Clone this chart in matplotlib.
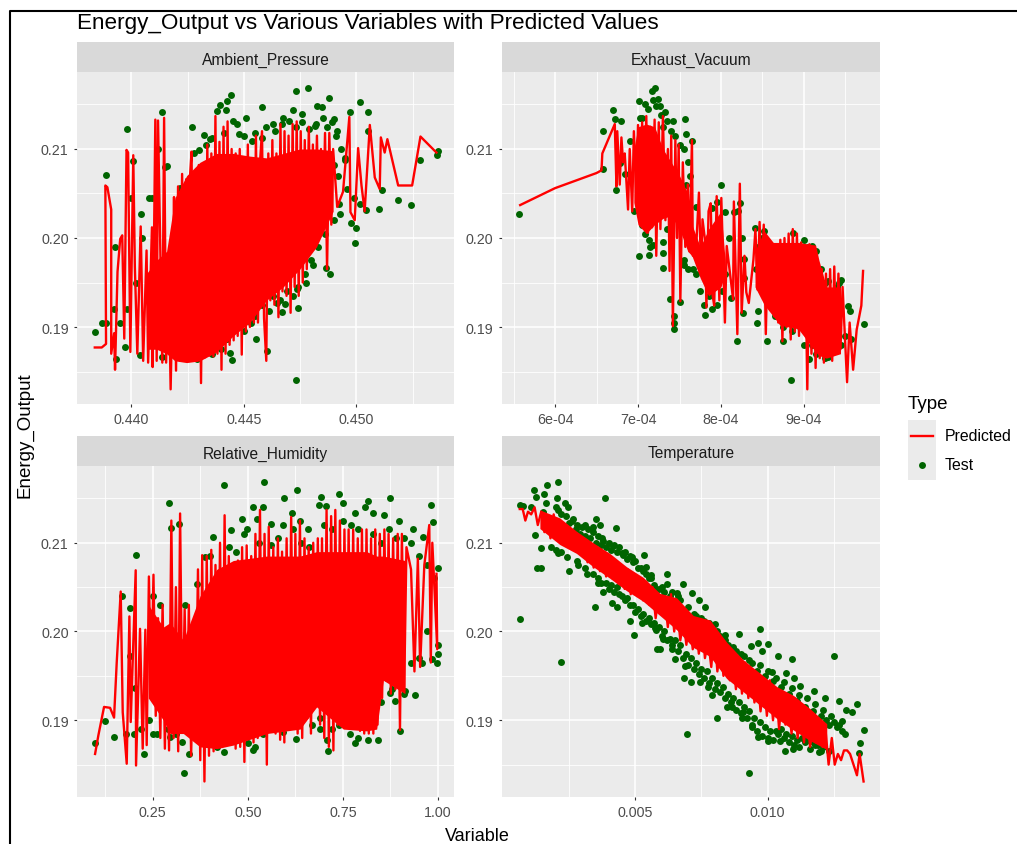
import matplotlib
matplotlib.use("Agg")
import matplotlib.pyplot as plt

plt.rcParams['font.family'] = ['Liberation Sans', 'DejaVu Sans']

W, H = 1017, 845

# Ambient_Pressure
pressure_test_x = [.43837, .43887, .43982, .44138, .44441, .44424, .44394, .44379, .44419, .44508,
                   .44581, .44732, .44787, .44877, .44827, .44846, .44720, .44760, .44676, .44902,
                   .44972, .45016, .45050, .45359, .45364, .45284, .45184, .45244, .45101, .45113,
                   .44994, .45000, .44976, .44927, .44883, .44865, .44776, .44742, .44732, .44601,
                   .44554, .44447, .44439, .44427, .44353, .44290, .44218, .44138, .44039, .43972,
                   .43932, .43870, .43887, .43924, .44044, .44009, .44092, .44216, .44268, .44324,
                   .44350, .44301, .44157, .44172, .44646, .44683, .44668, .44619, .44735, .44913,
                   .44816, .44631, .44950, .45053, .45041, .44809, .44453, .44480, .44535, .44923,
                   .45018,
                   .4428, .4433, .4436, .4441, .4447, .4450, .4455, .4458, .4460, .4464,
                   .4467, .4470, .4473, .4476, .4479, .4482, .4485, .4487, .4489, .4491,
                   .4493, .4495, .4490, .4492, .4496, .4499, .4428, .4432, .4436, .4440,
                   .4445, .4450, .4453, .4455, .4458, .4461, .4463, .4466, .4469, .4472,
                   .4474, .4477, .4480, .4483, .4486, .4490, .4398, .4402, .4405, .4408,
                   .4412, .4415, .4400, .4395, .4393]
pressure_test_y = [.18944, .20708, .21228, .21412, .21610, .21539, .21498, .21427, .21438, .21345,
                   .21472, .21655, .21682, .21569, .21483, .21476, .21442, .21397, .21352, .21333,
                   .21412, .21524, .21412, .20936, .20978, .20876, .20427, .20367, .20326, .20536,
                   .19944, .20116, .20172, .20270, .19592, .19667, .19491, .19210, .18405, .18730,
                   .18861, .18633, .18704, .18861, .18787, .18637, .18667, .18663, .18689, .18775,
                   .18644, .19049, .19049, .19199, .20273, .20869, .20453, .20558, .21247, .21161,
                   .21109, .20993, .20809, .19779, .19273, .19255, .19169, .19356, .19423, .21202,
                   .21258, .21277, .20876, .21202, .20315, .19693, .21315, .21172, .21090, .20378,
                   .20386,
                   .2095, .2105, .2112, .2118, .2128, .2115, .2118, .2112, .2125, .2120,
                   .2128, .2132, .2125, .2130, .2122, .2128, .2135, .2125, .2130, .2115,
                   .2100, .2090, .2082, .2070, .2055, .2045, .1868, .1872, .1870, .1875,
                   .1900, .1895, .1905, .1912, .1925, .1918, .1935, .1930, .1940, .1935,
                   .1945, .1960, .1975, .1990, .2005, .2020, .1920, .1950, .2000, .2045,
                   .2100, .2080, .2045, .1905, .1990]
pressure_pred_x = [.43838, .43869, .43888, .43885, .43894, .43911, .43911, .43924, .43928, .43939,
                   .43951, .43960, .43969, .43979, .43986, .43996, .44009, .44016, .44027, .44042,
                   .44053, .44068, .44075, .44092, .44095, .44107, .44113, .44119, .44138, .44146,
                   .44155, .44165, .44175, .44185, .44190, .44199, .44208, .44217, .44226, .44235,
                   .44244, .44253, .44262, .44268, .44275, .44284, .44293, .44300, .44310, .44320,
                   .44329, .44338, .44347, .44356, .44365, .44374, .44383, .44392, .44401, .44410,
                   .44419, .44428, .44437, .44446, .44455, .44464, .44473, .44482, .44491, .44500,
                   .44509, .44518, .44527, .44536, .44545, .44554, .44563, .44572, .44581, .44590,
                   .44600, .44609, .44618, .44627, .44636, .44645, .44654, .44663, .44672, .44681,
                   .44690, .44699, .44708, .44717, .44726, .44735, .44744, .44753, .44762, .44771,
                   .44780, .44789, .44798, .44807, .44816, .44825, .44834, .44843, .44852, .44861,
                   .44870, .44880, .44889, .44897, .44915, .44941, .44969, .44974, .44993, .45008,
                   .45023, .45037, .45060, .45082, .45104, .45109, .45126, .45138, .45186, .45248,
                   .45285, .45356]
pressure_pred_y = [.1877, .1877, .1881, .2059, .2057, .2032, .1870, .1893, .1852, .1962,
                   .1999, .2003, .1887, .2099, .2096, .1872, .2093, .1968, .1870, .2013,
                   .1862, .1986, .1860, .2012, .1855, .2133, .1862, .2132, .1860, .2135,
                   .1860, .1975, .1830, .1955, .2046, .1851, .2058, .1862, .2072, .1863,
                   .2066, .1862, .2073, .2097, .1862, .2070, .1862, .2082, .1837, .2076,
                   .1866, .2105, .1868, .2095, .1867, .2137, .1870, .2108, .1852, .2125,
                   .1870, .2131, .1880, .2100, .1885, .2095, .1890, .2100, .1869, .2085,
                   .1895, .2105, .1900, .2085, .1905, .2115, .1905, .2085, .2120, .1910,
                   .1862, .2095, .1930, .2110, .1925, .2095, .1911, .2128, .1940, .2120,
                   .1935, .2115, .1916, .2128, .1945, .2131, .1935, .2120, .1950, .2110,
                   .1965, .2125, .1985, .2105, .2005, .2115, .2010, .2100, .2010, .2118,
                   .1965, .2118, .2015, .2100, .2035, .2052, .2136, .2029, .2020, .2101,
                   .2059, .2030, .2127, .2068, .2055, .2113, .2096, .2111, .2059, .2059,
                   .2114, .2096]
# where the line is so dense that it reads as solid red
pressure_core_x = [.44068, .44113, .44157, .44194, .44246, .44305, .44379, .44453, .44527, .44601,
                   .44675, .44749, .44823, .44897]
pressure_core_lo = [.1875, .1875, .1870, .1862, .1860, .1862, .1872, .1890, .1905, .1930,
                    .1945, .1965, .1990, .2030]
pressure_core_hi = [.1960, .1975, .1985, .2045, .2070, .2085, .2095, .2095, .2092, .2090,
                    .2095, .2100, .2100, .2098]

# Exhaust_Vacuum, x in units of 1e-4
vacuum_test_x = [5.571, 6.575, 6.575, 6.695, 6.725, 6.790, 6.740, 6.780, 6.845, 6.900,
                 6.953, 7.013, 7.026, 7.090, 7.167, 7.210, 7.245, 7.262, 7.330, 7.425,
                 7.562, 7.584, 7.652, 7.017, 7.137, 7.133, 7.176, 7.305, 7.305, 7.390,
                 7.502, 7.438, 7.438, 7.438, 7.554, 7.661, 7.803, 7.897, 8.004, 7.948,
                 7.888, 8.047, 8.017, 8.120, 8.197, 8.232, 8.155, 8.412, 8.519, 8.433,
                 8.446, 8.549, 8.747, 8.841, 8.871, 9.004, 9.099, 8.648, 9.064, 9.004,
                 9.292, 9.292, 9.442, 9.528, 9.549, 9.562, 9.721, 9.420, 8.283, 8.260,
                 8.476,
                 7.30, 7.35, 7.28, 7.22, 7.18, 7.12, 7.05, 7.40, 7.45, 7.50,
                 7.55, 7.60, 7.63, 7.58, 7.70, 7.05, 7.08, 7.15, 7.30, 7.35,
                 7.55, 7.60, 7.70, 7.75, 7.80, 7.85, 7.95, 8.05, 8.10, 8.20,
                 8.25, 8.28, 8.42, 8.45, 8.50, 8.60, 8.65, 8.75, 8.85, 8.95,
                 9.05, 9.15, 9.20, 9.25, 9.35, 9.40, 9.10, 9.15, 9.25, 9.30,
                 9.45, 9.50]
vacuum_test_y = [.2027, .2120, .2078, .2144, .2134, .2132, .2054, .2084, .2072, .2109,
                 .2030, .2154, .2135, .2150, .2165, .2168, .2156, .2148, .2141, .2131,
                 .2134, .2117, .2109, .1980, .1981, .1998, .1992, .1966, .1983, .1931,
                 .1928, .1912, .1904, .1898, .1970, .1965, .1914, .1920, .2059, .2041,
                 .2034, .2029, .1940, .1933, .1884, .2039, .2029, .2011, .2008, .1905,
                 .1918, .1884, .1884, .1841, .2006, .1998, .1991, .1912, .1864, .1880,
                 .1866, .1952, .1953, .1924, .1918, .1886, .1903, .1950, .1976, .1916,
                 .1946,
                 .2125, .2132, .2138, .2148, .2155, .2145, .2135, .2120, .2115, .2105,
                 .2100, .2085, .2070, .2060, .2035, .2015, .2005, .1990, .1995, .2010,
                 .1975, .1965, .1960, .1940, .1925, .1935, .1925, .1960, .2000, .2030,
                 .2000, .1955, .1965, .1990, .2000, .1990, .1930, .1900, .1895, .1900,
                 .1990, .1985, .1965, .1950, .1935, .1945, .1880, .1870, .1865, .1875,
                 .1880, .1890]
vacuum_pred_x = [5.58, 6.00, 6.50, 6.56, 6.57, 6.72, 6.74, 6.75, 6.78, 6.80,
                 6.82, 6.84, 6.88, 6.90, 6.93, 6.95, 6.98, 7.00, 7.02, 7.05,
                 7.07, 7.10, 7.12, 7.15, 7.17, 7.20, 7.22, 7.25, 7.27, 7.30,
                 7.33, 7.36, 7.38, 7.40, 7.42, 7.45, 7.47, 7.49, 7.51, 7.54,
                 7.57, 7.60, 7.62, 7.65, 7.661, 7.704, 7.734, 7.76, 7.777, 7.811,
                 7.824, 7.85, 7.876, 7.90, 7.918, 7.948, 7.98, 8.004, 8.047, 8.069,
                 8.146, 8.155, 8.197, 8.227, 8.249, 8.283, 8.305, 8.335, 8.391, 8.415,
                 8.44, 8.465, 8.49, 8.515, 8.54, 8.565, 8.59, 8.615, 8.64, 8.665,
                 8.69, 8.715, 8.74, 8.765, 8.79, 8.815, 8.84, 8.865, 8.89, 8.915,
                 8.94, 8.965, 8.99, 9.015, 9.04, 9.065, 9.09, 9.115, 9.14, 9.165,
                 9.19, 9.215, 9.24, 9.265, 9.29, 9.315, 9.34, 9.365, 9.39, 9.415,
                 9.44, 9.465, 9.519, 9.55, 9.592, 9.635, 9.691, 9.712]
vacuum_pred_y = [.2037, .2056, .2073, .2076, .2095, .2128, .2058, .2120, .2060, .2113,
                 .2085, .2095, .2032, .2100, .2030, .2120, .2050, .2127, .2020, .2130,
                 .2013, .2137, .2006, .2125, .2012, .2133, .1980, .2130, .2010, .2137,
                 .2020, .2100, .1963, .2115, .1901, .2110, .2000, .2105, .1929, .2085,
                 .1990, .2060, .1985, .2110, .1980, .1995, .2051, .1961, .2021, .1995,
                 .1922, .2030, .2039, .1935, .1924, .2047, .1930, .2045, .1905, .1991,
                 .1931, .2041, .1892, .2061, .1916, .1980, .1939, .1927, .1976, .2010,
                 .1942, .2018, .1950, .2015, .1892, .1995, .1925, .1993, .1912, .1992,
                 .1905, .1998, .1884, .2000, .1900, .2005, .1886, .2010, .1895, .2005,
                 .1890, .1995, .1897, .1991, .1830, .1993, .1870, .1985, .1854, .1972,
                 .1865, .1965, .1860, .1960, .1868, .1965, .1862, .1968, .1870, .1960,
                 .1875, .1945, .1838, .1905, .1852, .1897, .1924, .1963]
vacuum_core1_x = [6.95, 7.00, 7.10, 7.20, 7.30, 7.40, 7.50, 7.60, 7.65, 7.75, 7.85, 8.00, 8.05]
vacuum_core1_lo = [.2040, .2015, .2005, .2015, .2022, .2025, .2010, .1985, .1980, .1955, .1935, .1945, .1960]
vacuum_core1_hi = [.2100, .2125, .2128, .2125, .2100, .2085, .2070, .2050, .2015, .1990, .2010, .2030, .1975]
vacuum_core2_x = [8.41, 8.52, 8.63, 8.71, 8.93, 9.14, 9.18, 9.27, 9.44]
vacuum_core2_lo = [.1945, .1925, .1912, .1902, .1898, .1872, .1868, .1865, .1870]
vacuum_core2_hi = [.1985, .2008, .1995, .1995, .1995, .1992, .1975, .1945, .1945]

# Relative_Humidity
humidity_test_x = [.0976, .1256, .1484, .1703, .1904, .1904, .2062, .2036, .2272, .2929,
                   .2973, .3201, .3332, .3350, .3262, .2518, .3656, .3875, .4094, .4375,
                   .5435, .5146, .5408, .4839, .4550, .4970, .5233, .5601, .5960, .6302,
                   .6171, .6372, .5934, .6591, .6924, .7388, .6880, .7055, .7511, .7817,
                   .8168, .8080, .8282, .8746, .8579, .8974, .9806, .9858, .9333, .9596,
                   1.000, .9964, .9841, .9403, .9000, .8877, .8413, .8150, .7817, .7686,
                   .7117, .7073, .6898, .6267, .5934, .5146, .5015, .4375, .3464, .2956,
                   .8649, .8737, .7510, .9131, .9569,
                   .40, .45, .47, .49, .53, .56, .58, .62, .64, .66,
                   .70, .72, .75, .77, .79, .83, .85, .87, .89, .91,
                   .93, .95, .97, .99, 1.0, 1.0, .97, .93, .95, .25,
                   .27, .35, .36, .35, .38, .42, .45, .47, .52, .54,
                   .56, .60, .63, .65, .67, .69, .72, .74, .76, .79,
                   .83, .85, .88, .91, .18, .20, .22, .24, .26, .29,
                   .31]
humidity_test_y = [.1874, .1899, .1881, .2040, .2027, .1972, .2086, .1936, .1862, .2145,
                   .2117, .2121, .1840, .2030, .1876, .1885, .2053, .2084, .2106, .2165,
                   .2168, .2140, .2140, .2127, .2114, .2116, .2127, .2121, .2151, .2159,
                   .2134, .2125, .2120, .2115, .2152, .2155, .2142, .2141, .2145, .2134,
                   .2147, .2140, .2133, .2150, .2131, .2125, .2142, .2123, .2115, .2106,
                   .2071, .1964, .1969, .1928, .1888, .1922, .1878, .1878, .1874, .1885,
                   .1865, .1878, .1902, .1879, .1887, .1866, .1874, .1864, .1862, .1881,
                   .1948, .1931, .1900, .1933, .1965,
                   .2085, .2095, .2090, .2110, .2100, .2098, .2105, .2115, .2100, .2095,
                   .2120, .2115, .2125, .2120, .2115, .2110, .2100, .2115, .2105, .2105,
                   .2100, .2085, .2075, .2060, .1985, .1975, .2000, .1965, .1970, .2040,
                   .2030, .2000, .1985, .1885, .1880, .1870, .1880, .1890, .1870, .1885,
                   .1890, .1895, .1895, .1905, .1895, .1890, .1890, .1895, .1910, .1880,
                   .1895, .1920, .1935, .1930, .1885, .1885, .1890, .1900, .1885, .1890,
                   .1885]
humidity_pred_x = [.0985, .1072, .1221, .1379, .1484, .1554, .1659, .1712, .1817, .1887,
                   .1922, .2053, .2062, .2167, .2237, .2307, .2342, .240, .246, .252,
                   .258, .264, .270, .276, .282, .287, .293, .299, .305, .311,
                   .317, .322, .328, .334, .340, .345, .351, .357, .363, .369,
                   .375, .380, .386, .392, .398, .404, .410, .415, .421, .427,
                   .433, .439, .445, .450, .456, .462, .468, .474, .480, .485,
                   .491, .497, .503, .509, .515, .520, .526, .532, .538, .544,
                   .550, .555, .561, .567, .573, .579, .585, .590, .596, .602,
                   .608, .614, .620, .625, .631, .637, .643, .649, .655, .660,
                   .666, .672, .678, .684, .690, .695, .701, .707, .713, .719,
                   .725, .730, .736, .742, .748, .754, .760, .765, .771, .777,
                   .783, .789, .795, .800, .806, .812, .818, .824, .830, .835,
                   .841, .847, .853, .859, .865, .870, .876, .882, .888, .894,
                   .900, .905, .911, .917, .929, .938, .947, .953, .964, .977,
                   .981, .985, .998, .996]
humidity_pred_y = [.1862, .1883, .1915, .1914, .1903, .1965, .2045, .1909, .1851, .2017,
                   .1898, .2069, .1849, .2003, .1868, .2002, .1872, .2062, .1924, .2064,
                   .1905, .2015, .1880, .2030, .1868, .1990, .1866, .2125, .1880, .2050,
                   .1865, .2133, .1890, .2025, .1895, .2030, .1860, .1985, .1895, .2070,
                   .1855, .2086, .1831, .2085, .1860, .2092, .1865, .2075, .1880, .2100,
                   .1870, .2131, .1872, .2085, .1875, .2075, .1868, .2080, .1870, .2095,
                   .1853, .2097, .1880, .2085, .1875, .2110, .1880, .2137, .1885, .2110,
                   .1850, .2118, .1890, .2095, .1885, .2105, .1878, .2090, .1875, .2105,
                   .1890, .2129, .1895, .2110, .1885, .2125, .1880, .2105, .1910, .2095,
                   .1885, .2100, .1928, .2105, .1895, .2105, .1880, .2137, .1870, .2130,
                   .1866, .2137, .1895, .2125, .1900, .2115, .1905, .2115, .1892, .2115,
                   .1900, .2105, .1888, .2115, .1885, .2115, .1885, .2105, .1885, .2115,
                   .1895, .2110, .1925, .2115, .1945, .2110, .1930, .2105, .1935, .2110,
                   .1889, .2110, .1933, .2095, .2070, .1955, .2082, .1960, .2075, .2120,
                   .1965, .2100, .1980, .2065]
humidity_core_x = [.2386, .2780, .2956, .3306, .3744, .4182, .4620, .5496, .6372, .6810,
                   .7511, .8124, .8387, .8562, .9131]
humidity_core_lo = [.1925, .1900, .1885, .1885, .1870, .1868, .1872, .1885, .1890, .1915,
                    .1890, .1888, .1890, .1945, .1930]
humidity_core_hi = [.2030, .2005, .2010, .1990, .2040, .2070, .2080, .2085, .2085, .2090,
                    .2090, .2090, .2085, .2085, .2080]

# Temperature
temperature_test_x = [.00064, .00077, .00106, .00116, .00125, .00155, .00167, .00210, .00164, .00203,
                      .00234, .00247, .00209, .00152, .00266, .00387, .00429, .00351, .00366, .00310,
                      .00278, .00341, .00373, .00121, .00146, .00130, .00146, .00063, .00220, .00209,
                      .00243, .00248, .00282, .00316, .00348, .00360, .00377, .00411, .00432, .00417,
                      .00455, .00486, .00534, .00539, .00558, .00620, .00620, .00681, .00714, .00742,
                      .00762, .00656, .00481, .00495, .00524, .00576, .00606, .00581, .00593, .00640,
                      .00650, .00688, .00685, .00709, .00695, .00744, .00776, .00791, .00809, .00845,
                      .00801, .00890, .00839, .00971, .00937, .00962, .01003, .00978, .01038, .01093,
                      .01251, .01015, .01070, .01101, .01122, .01173, .01217, .01270, .01337, .01295,
                      .01319, .01280, .01362, .01290, .01350, .01345, .01193, .01097, .01066, .00928,
                      .00902, .00940, .00965, .01003, .01047, .00908, .00864,
                      .0020, .0022, .0024, .0026, .0028, .0030, .0032, .0034, .0029, .0031,
                      .0033, .0035, .0037, .0039, .0041, .0043, .0045, .0047, .0049, .0051,
                      .0053, .0055, .0057, .0059, .0061, .0063, .0067, .0070, .0073, .0076,
                      .0079, .0082, .0085, .0088, .0091, .0094, .0097, .0100, .0103, .0106,
                      .0109, .0112, .0115, .0118, .0121, .0124, .0127, .0123, .0126,
                      .0018, .0020, .0022, .0028, .0031, .0034, .0037, .0040, .0042, .0044,
                      .0046, .0048, .0050, .0052, .0054, .0056, .0058, .0060, .0062, .0064,
                      .0066, .0068, .0070, .0072, .0074, .0076, .0078, .0080, .0082, .0084,
                      .0086, .0088, .0090, .0092, .0094, .0096, .0098, .0100, .0102, .0104,
                      .0106, .0108, .0110, .0112, .0114, .0116, .0118, .0120]
temperature_test_y = [.2142, .2141, .2140, .2159, .2152, .2155, .2165, .2168, .2145, .2150,
                      .2145, .2140, .2137, .2134, .2127, .2151, .2117, .2127, .2120, .2120,
                      .2116, .2112, .2105, .2109, .2094, .2071, .2071, .2014, .1966, .2088,
                      .2084, .2068, .2075, .2065, .2028, .2055, .2045, .2032, .2028, .2096,
                      .2086, .2084, .2086, .2073, .2064, .2065, .2054, .2053, .2043, .2035,
                      .2028, .2043, .2012, .1996, .2010, .2004, .1991, .1980, .1980, .1980,
                      .1969, .1961, .1948, .1943, .1885, .1943, .1937, .1929, .1902, .1915,
                      .2009, .1997, .1996, .2003, .1984, .1987, .1986, .1978, .1972, .1969,
                      .1972, .1954, .1953, .1948, .1939, .1933, .1925, .1922, .1918, .1911,
                      .1909, .1899, .1889, .1884, .1874, .1863, .1864, .1868, .1865, .1840,
                      .1903, .1892, .1881, .1877, .1877, .1909, .1915,
                      .2140, .2132, .2130, .2125, .2120, .2118, .2115, .2118, .2110, .2108,
                      .2105, .2100, .2098, .2095, .2092, .2090, .2088, .2082, .2078, .2072,
                      .2068, .2060, .2052, .2048, .2045, .2040, .2035, .2028, .2018, .2012,
                      .2005, .1995, .1985, .1978, .1972, .1965, .1962, .1955, .1948, .1943,
                      .1936, .1928, .1925, .1918, .1912, .1905, .1895, .1895, .1892,
                      .2095, .2092, .2090, .2080, .2072, .2065, .2055, .2048, .2045, .2042,
                      .2035, .2030, .2022, .2018, .2012, .2008, .2002, .1995, .1990, .1985,
                      .1978, .1970, .1962, .1958, .1952, .1948, .1942, .1935, .1932, .1925,
                      .1920, .1912, .1908, .1902, .1895, .1888, .1882, .1880, .1878, .1885,
                      .1880, .1875, .1872, .1870, .1875, .1868, .1872, .1865]
# points packed tight against the red band
temperature_band_x = [.0015, .0017, .0019, .0023, .0025, .0036, .0038, .0040, .0042, .0044,
                      .0046, .0048, .0050, .0052, .0054, .0056, .0058, .0060, .0064, .0066,
                      .0072, .0075, .0078, .0081, .0084, .0087, .0090, .0093, .0096, .0099,
                      .0102, .0105, .0108, .0111, .0114, .0117, .0120, .0122, .0125, .0128,
                      .0036, .0039, .0041, .0043, .0045, .0047, .0049, .0051, .0053, .0055,
                      .0057, .0059, .0061, .0063, .0065, .0067, .0069, .0071, .0073, .0075,
                      .0077, .0079, .0081, .0083, .0085, .0087, .0089, .0091, .0093, .0095,
                      .0097, .0099, .0101, .0103, .0105, .0107, .0109, .0111, .0113, .0115,
                      .0117, .0119, .0121, .0123]
temperature_band_y = [.2135, .2128, .2122, .2108, .2122, .2108, .2102, .2100, .2098, .2095,
                      .2090, .2085, .2080, .2072, .2065, .2060, .2048, .2050, .2044, .2040,
                      .2020, .2015, .2010, .2000, .1990, .1982, .1975, .1968, .1955, .1950,
                      .1944, .1938, .1930, .1922, .1915, .1910, .1905, .1900, .1898, .1888,
                      .2060, .2055, .2052, .2050, .2040, .2038, .2030, .2025, .2020, .2015,
                      .2010, .2005, .2000, .1992, .1990, .1985, .1975, .1970, .1965, .1958,
                      .1955, .1948, .1942, .1938, .1930, .1925, .1920, .1915, .1910, .1903,
                      .1898, .1892, .1888, .1888, .1890, .1885, .1882, .1878, .1880, .1878,
                      .1875, .1872, .1870, .1865]
temperature_pred_x = [.00064, .00075, .00085, .00095, .00107, .00120, .00132, .00145, .00157, .00168,
                      .00180, .00192, .00203, .00215, .00227, .00238, .00250, .00262, .00273, .00285,
                      .00297, .00308, .00320, .00332, .00343, .00355, .00367, .00378, .00390, .00402,
                      .00413, .00425, .00437, .00448, .00460, .00472, .00483, .00495, .00507, .00518,
                      .00530, .00542, .00553, .00565, .00577, .00588, .00600, .00612, .00623, .00635,
                      .00647, .00658, .00670, .00682, .00693, .00705, .00717, .00728, .00740, .00752,
                      .00763, .00775, .00787, .00798, .00810, .00822, .00833, .00845, .00857, .00868,
                      .00880, .00892, .00903, .00915, .00927, .00938, .00950, .00962, .00973, .00985,
                      .00997, .01008, .01020, .01032, .01043, .01055, .01067, .01078, .01090, .01102,
                      .01113, .01125, .01137, .01148, .01160, .01172, .01183, .01195, .01207, .01218,
                      .01230, .01242, .01253, .01265, .01277, .01288, .01300, .01311, .01337, .01347,
                      .01362]
temperature_pred_y = [.2138, .2138, .2125, .2135, .2132, .2140, .2120, .2135, .2112, .2130,
                      .2105, .2132, .2110, .2125, .2098, .2115, .2095, .2112, .2092, .2105,
                      .2088, .2098, .2078, .2097, .2072, .2090, .2068, .2085, .2062, .2085,
                      .2060, .2080, .2054, .2072, .2048, .2070, .2042, .2065, .2040, .2060,
                      .2035, .2056, .2030, .2050, .2015, .2040, .2020, .2035, .2005, .2042,
                      .2000, .2030, .1990, .2012, .1985, .2015, .1980, .2012, .1975, .2012,
                      .1970, .1990, .1960, .2002, .1955, .1985, .1950, .1978, .1945, .1975,
                      .1935, .1968, .1930, .1965, .1925, .1958, .1920, .1950, .1910, .1945,
                      .1905, .1945, .1900, .1935, .1890, .1930, .1895, .1920, .1885, .1925,
                      .1880, .1915, .1875, .1910, .1870, .1895, .1875, .1892, .1870, .1890,
                      .1850, .1880, .1850, .1862, .1855, .1866, .1866, .1862, .1838, .1862,
                      .1831]
temperature_core_x = [.00140, .00215, .00278, .00341, .00404, .00467, .00530, .00593, .00656, .00719,
                      .00782, .00845, .00908, .00971, .01034, .01097, .01160, .01223]
temperature_core_lo = [.2116, .2098, .2088, .2073, .2060, .2046, .2034, .2018, .2002, .1982,
                       .1972, .1947, .1932, .1917, .1902, .1889, .1877, .1867]
temperature_core_hi = [.2137, .2128, .2113, .2100, .2088, .2073, .2061, .2043, .2038, .2018,
                       .2013, .1988, .1968, .1953, .1938, .1928, .1913, .1896]

panel_names = ["Ambient_Pressure", "Exhaust_Vacuum", "Relative_Humidity", "Temperature"]
y_ticks = [0.19, 0.20, 0.21]
y_minor = [0.185, 0.195, 0.205, 0.215]

fig = plt.figure(figsize=(W / 100, H / 100), dpi=100, facecolor="white")


def add_panel(left, top, right, bottom, name, test_x, test_y, pred_x, pred_y,
              xlim, xticks, xlabels, xminor):
    ax = fig.add_axes([left / W, 1 - bottom / H, (right - left) / W, (bottom - top) / H])
    ax.set_facecolor("#ebebeb")
    for s in ax.spines.values():
        s.set_visible(False)
    ax.set_xlim(*xlim)
    ax.set_ylim(0.18135, 0.21865)
    ax.set_axisbelow(True)
    for v in y_minor:
        ax.axhline(v, color="white", lw=0.6, zorder=1)
    for v in xminor:
        ax.axvline(v, color="white", lw=0.6, zorder=1)
    for v in y_ticks:
        ax.axhline(v, color="white", lw=1.1, zorder=1)
    for v in xticks:
        ax.axvline(v, color="white", lw=1.1, zorder=1)
    ax.scatter(test_x, test_y, s=25, color="#006400", linewidths=0, zorder=2)
    ax.plot(pred_x, pred_y, color="red", lw=1.7, solid_joinstyle="round", zorder=3)
    ax.set_xticks(xticks)
    ax.set_xticklabels(xlabels)
    ax.set_yticks(y_ticks)
    ax.set_yticklabels(["0.19", "0.20", "0.21"])
    ax.tick_params(length=2.5, width=0.8, color="#333333", labelcolor="#4d4d4d", labelsize=10.3, pad=3.5)
    # facet strip
    fig.patches.append(plt.Rectangle((left / W, 1 - top / H), (right - left) / W, 30 / H,
                                     transform=fig.transFigure, facecolor="#d9d9d9", edgecolor="none"))
    fig.text((left + right) / 2 / W, 1 - (top - 13) / H, name, ha="center", va="center",
             fontsize=11.2, color="#1a1a1a")
    return ax


ax1 = add_panel(77, 73, 454, 405, panel_names[0], pressure_test_x, pressure_test_y,
                pressure_pred_x, pressure_pred_y, (0.43759, 0.45434),
                [0.440, 0.445, 0.450], ["0.440", "0.445", "0.450"], [0.4425, 0.4475, 0.4525])
ax1.fill_between(pressure_core_x, pressure_core_lo, pressure_core_hi, color="red", lw=0, zorder=3)

ax2 = add_panel(501.5, 73, 880, 405, panel_names[1], [v * 1e-4 for v in vacuum_test_x], vacuum_test_y,
                [v * 1e-4 for v in vacuum_pred_x], vacuum_pred_y, (5.355e-4, 9.916e-4),
                [6e-4, 7e-4, 8e-4, 9e-4], ["6e-04", "7e-04", "8e-04", "9e-04"],
                [5.5e-4, 6.5e-4, 7.5e-4, 8.5e-4, 9.5e-4])
ax2.fill_between([v * 1e-4 for v in vacuum_core1_x], vacuum_core1_lo, vacuum_core1_hi, color="red", lw=0, zorder=3)
ax2.fill_between([v * 1e-4 for v in vacuum_core2_x], vacuum_core2_lo, vacuum_core2_hi, color="red", lw=0, zorder=3)

ax3 = add_panel(77, 467, 454, 798, panel_names[2], humidity_test_x, humidity_test_y,
                humidity_pred_x, humidity_pred_y, (0.051, 1.042),
                [0.25, 0.50, 0.75, 1.00], ["0.25", "0.50", "0.75", "1.00"], [0.125, 0.375, 0.625, 0.875])
ax3.fill_between(humidity_core_x, humidity_core_lo, humidity_core_hi, color="red", lw=0, zorder=3)

ax4 = add_panel(501.5, 467, 880, 798, panel_names[3], temperature_test_x + temperature_band_x,
                temperature_test_y + temperature_band_y,
                temperature_pred_x, temperature_pred_y, (-0.00005, 0.01424),
                [0.005, 0.010], ["0.005", "0.010"], [0.0025, 0.0075, 0.0125])
ax4.fill_between(temperature_core_x, temperature_core_lo, temperature_core_hi, color="red", lw=0, zorder=3)

# titles
fig.text(77 / W, 1 - 24 / H, "Energy_Output vs Various Variables with Predicted Values",
         fontsize=16.2, color="black", ha="left", va="center")
fig.text(477 / W, 1 - 837 / H, "Variable", fontsize=13, ha="center", va="center")
fig.text(25 / W, 1 - 435 / H, "Energy_Output", fontsize=13.5, rotation=90, ha="center", va="center")

# legend, drawn by hand as ggplot lays it out
fig.text(908 / W, 1 - 405 / H, "Type", fontsize=13.5, ha="left", va="center")
fig.patches.append(plt.Rectangle((908 / W, 1 - 481 / H), 28 / W, 60 / H, transform=fig.transFigure,
                                 facecolor="#ebebeb", edgecolor="none"))
fig.add_artist(plt.Line2D([911 / W, 933 / W], [1 - 437 / H, 1 - 437 / H], color="red", lw=1.7))
fig.add_artist(plt.Line2D([922 / W], [1 - 466 / H], marker="o", ms=5, color="#006400", mew=0))
fig.text(945 / W, 1 - 437 / H, "Predicted", fontsize=11.4, ha="left", va="center")
fig.text(945 / W, 1 - 466 / H, "Test", fontsize=11.4, ha="left", va="center")

# black frame of the screenshot
fig.add_artist(plt.Line2D([9.5 / W, 9.5 / W, 1], [0, 1 - 12 / H, 1 - 12 / H], color="black", lw=1.5))

fig.savefig("out.png", dpi=100)
